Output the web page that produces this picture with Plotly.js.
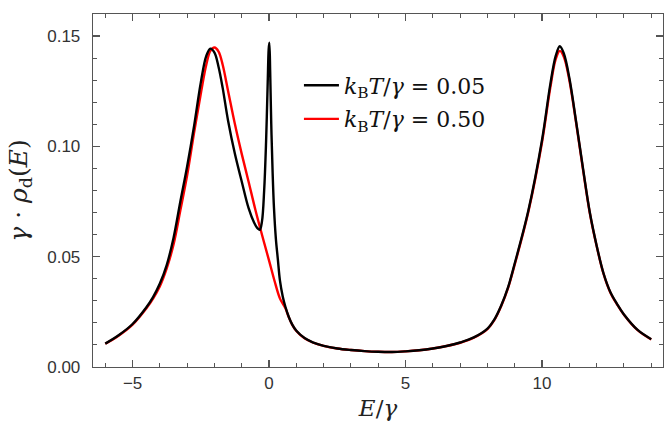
<!DOCTYPE html>
<html>
<head>
<meta charset="utf-8">
<script src="https://cdn.plot.ly/plotly-3.0.1.min.js"></script>
<style>
html,body{margin:0;padding:0;background:#fff;}
#chart{width:669px;height:421px;}
</style>
</head>
<body>
<div id="chart"></div>
<script>
// Black curve: k_B T / gamma = 0.05
const xLow = [-6.0, -5.5, -5.0, -4.5, -4.25, -4.0, -3.75, -3.5, -3.25, -3.0, -2.75, -2.5, -2.3, -2.15, -2.0, -1.85, -1.7, -1.5, -1.25, -1.0, -0.75, -0.55, -0.42, -0.34, -0.26, -0.18, -0.11, -0.05, -0.015, 0.01, 0.04, 0.08, 0.13, 0.18, 0.25, 0.32, 0.4, 0.5, 0.6, 0.72, 0.85, 1.0, 1.3, 1.6, 2.0, 2.5, 3.0, 3.5, 4.0, 4.5, 5.0, 5.5, 6.0, 6.5, 7.0, 7.5, 8.0, 8.25, 8.5, 8.75, 9.0, 9.5, 10.0, 10.3, 10.5, 10.65, 10.8, 11.0, 11.25, 11.5, 11.75, 12.0, 12.25, 12.5, 12.75, 13.0, 13.5, 14.0];
const yLow = [0.0106, 0.0145, 0.0195, 0.0270, 0.0317, 0.0378, 0.0462, 0.0585, 0.0750, 0.0910, 0.1090, 0.1290, 0.1410, 0.1443, 0.1425, 0.1360, 0.1265, 0.1115, 0.0965, 0.0840, 0.0720, 0.0655, 0.0628, 0.0622, 0.0660, 0.0800, 0.1020, 0.1290, 0.1440, 0.1470, 0.1340, 0.1100, 0.0880, 0.0720, 0.0580, 0.0490, 0.0390, 0.0320, 0.0272, 0.0228, 0.0192, 0.0164, 0.0131, 0.0112, 0.0096, 0.0084, 0.0077, 0.0072, 0.0069, 0.0068, 0.0071, 0.0076, 0.0084, 0.0095, 0.0111, 0.0134, 0.0174, 0.0215, 0.0278, 0.0360, 0.0470, 0.0710, 0.1030, 0.1280, 0.1410, 0.1454, 0.1420, 0.1310, 0.1110, 0.0900, 0.0700, 0.0550, 0.0425, 0.0340, 0.0285, 0.0238, 0.0168, 0.0126];

// Red curve: k_B T / gamma = 0.50
const xHigh = [-6.0, -5.5, -5.0, -4.5, -4.25, -4.0, -3.75, -3.5, -3.25, -3.0, -2.75, -2.5, -2.3, -2.15, -2.0, -1.85, -1.7, -1.5, -1.25, -1.0, -0.75, -0.5, -0.25, 0.0, 0.2, 0.4, 0.6, 0.72, 0.85, 1.0, 1.3, 1.6, 2.0, 2.5, 3.0, 3.5, 4.0, 4.5, 5.0, 5.5, 6.0, 6.5, 7.0, 7.5, 8.0, 8.25, 8.5, 8.75, 9.0, 9.5, 10.0, 10.3, 10.5, 10.65, 10.8, 11.0, 11.25, 11.5, 11.75, 12.0, 12.25, 12.5, 12.75, 13.0, 13.5, 14.0];
const yHigh = [0.0105, 0.0143, 0.0192, 0.0265, 0.0310, 0.0366, 0.0447, 0.0555, 0.0710, 0.0870, 0.1060, 0.1240, 0.1370, 0.1433, 0.1448, 0.1430, 0.1370, 0.1250, 0.1100, 0.0965, 0.0840, 0.0712, 0.0595, 0.0482, 0.0390, 0.0310, 0.0266, 0.0226, 0.0191, 0.0163, 0.0130, 0.0111, 0.0096, 0.0084, 0.0077, 0.0072, 0.0069, 0.0068, 0.0071, 0.0076, 0.0084, 0.0095, 0.0110, 0.0133, 0.0172, 0.0212, 0.0275, 0.0356, 0.0465, 0.0705, 0.1020, 0.1265, 0.1395, 0.1433, 0.1405, 0.1300, 0.1105, 0.0895, 0.0697, 0.0548, 0.0423, 0.0338, 0.0283, 0.0237, 0.0167, 0.0125];

const nameLow = '<i>k</i><sub>B</sub><i>T</i>/<i>γ</i> = 0.05';
const nameHigh = '<i>k</i><sub>B</sub><i>T</i>/<i>γ</i> = 0.50';

const axisColor = '#555';
const tickFont = {family: 'Liberation Sans, Arial, sans-serif', size: 17, color: '#333'};
const serif = 'DejaVu Serif, Liberation Serif, serif';

const traces = [
  {x: xHigh, y: yHigh, name: nameHigh, legendgroup: 'red', legendrank: 2, mode: 'lines', type: 'scatter',
   line: {color: '#ff0000', width: 2.4, shape: 'spline', smoothing: 1.0}},
  {x: xLow, y: yLow, name: nameLow, legendgroup: 'black', legendrank: 1, mode: 'lines', type: 'scatter',
   line: {color: '#000000', width: 2.4, shape: 'spline', smoothing: 1.0}}
];

const layout = {
  width: 669, height: 421,
  margin: {l: 93, r: 6, t: 14, b: 54},
  paper_bgcolor: '#fff', plot_bgcolor: '#fff',
  showlegend: true,
  legend: {x: 0.3613, y: 0.857, xanchor: 'left', yanchor: 'top', traceorder: 'grouped',
           tracegroupgap: 2, itemwidth: 35,
           bgcolor: 'rgba(0,0,0,0)', font: {family: serif, size: 22, color: '#111'}},
  xaxis: {
    range: [-6.45, 14.43], dtick: 5, tick0: 0,
    showgrid: false, zeroline: false,
    showline: true, linecolor: axisColor, linewidth: 1.3, mirror: 'allticks',
    ticks: 'inside', ticklen: 7, tickwidth: 1.2, tickcolor: axisColor,
    minor: {dtick: 1, ticks: 'inside', ticklen: 4, tickwidth: 1, tickcolor: axisColor, showgrid: false},
    tickfont: tickFont,
    title: {text: '<i>E</i>/<i>γ</i>', font: {family: serif, size: 23, color: '#222'}, standoff: 10}
  },
  yaxis: {
    range: [0, 0.160], dtick: 0.05, tick0: 0, tickformat: '.2f',
    showgrid: false, zeroline: false,
    showline: true, linecolor: axisColor, linewidth: 1.3, mirror: 'allticks',
    ticks: 'inside', ticklen: 7, tickwidth: 1.2, tickcolor: axisColor,
    minor: {dtick: 0.01, ticks: 'inside', ticklen: 4, tickwidth: 1, tickcolor: axisColor, showgrid: false},
    tickfont: tickFont, ticklabelstandoff: 8,
    title: {text: '<i>γ</i> · <i>ρ</i><sub>d</sub>(<i>E</i>)', font: {family: serif, size: 25, color: '#222'}, standoff: 12}
  }
};

Plotly.newPlot('chart', traces, layout, {displayModeBar: false, staticPlot: true});
</script>
</body>
</html>
